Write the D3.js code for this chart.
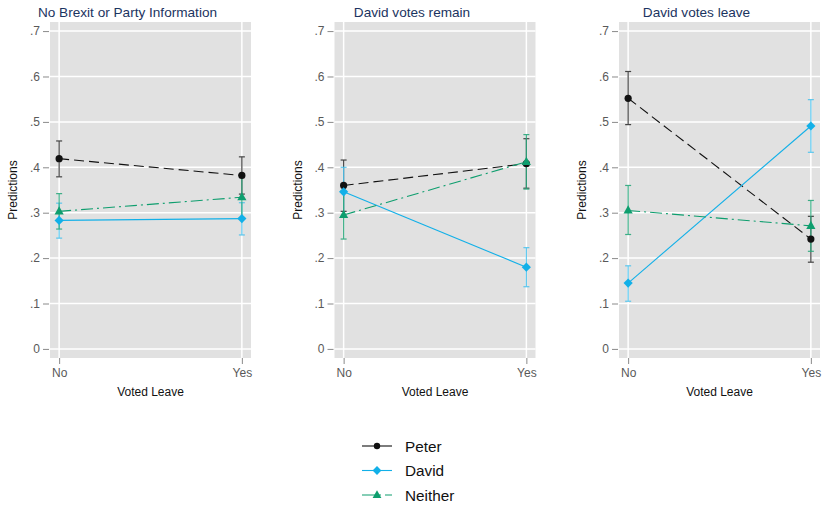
<!DOCTYPE html>
<html><head><meta charset="utf-8">
<script src="https://cdn.jsdelivr.net/npm/d3@7"></script>
<style>body{margin:0;background:#fff}svg{display:block;font-family:"Liberation Sans",Arial,sans-serif}</style>
</head><body><svg id="c" width="823" height="506"></svg>
<script>
const categories = ["No", "Yes"];
const panelTitles = ["No Brexit or Party Information", "David votes remain", "David votes leave"];
const seriesNames = ["Peter", "David", "Neither"];
const yTicks = [0, .1, .2, .3, .4, .5, .6, .7];
const yTickLabels = ["0", ".1", ".2", ".3", ".4", ".5", ".6", ".7"];
// per panel: [No, Yes]
const peterEst = [[.419, .382], [.360, .408], [.552, .242]];
const peterLo  = [[.379, .341], [.303, .354], [.494, .191]];
const peterHi  = [[.458, .423], [.416, .463], [.611, .292]];
const davidEst = [[.283, .287], [.346, .180], [.145, .491]];
const davidLo  = [[.244, .251], [.292, .137], [.105, .433]];
const davidHi  = [[.321, .322], [.400, .223], [.183, .549]];
const neitherEst = [[.303, .334], [.295, .412], [.305, .271]];
const neitherLo  = [[.264, .288], [.242, .352], [.252, .215]];
const neitherHi  = [[.342, .380], [.348, .472], [.360, .327]];

const series = [
  {name: seriesNames[0], est: peterEst, lo: peterLo, hi: peterHi, color: "#111111", ebColor: "#333333", dash: "10,5", marker: "circle"},
  {name: seriesNames[1], est: davidEst, lo: davidLo, hi: davidHi, color: "#12b0e8", ebColor: "#4cc3ee", dash: null, marker: "diamond"},
  {name: seriesNames[2], est: neitherEst, lo: neitherLo, hi: neitherHi, color: "#0e9e6e", ebColor: "#2aa87c", dash: "12,4,2,4", marker: "triangle"}
];

function markerPath(type, s) {
  if (type === "circle") { const p = d3.path(); p.arc(0, 0, s, 0, 2 * Math.PI); return p.toString(); }
  if (type === "diamond") return `M0,${-s}L${s},0L0,${s}L${-s},0Z`;
  const h = s * 1.1;
  return `M0,${-h}L${s},${h * 0.6}L${-s},${h * 0.6}Z`;
}

const svg = d3.select("#c");
const pw = 201, plotTop = 22, plotBottom = 358;
const y = d3.scaleLinear().domain([-0.02, 0.72]).range([plotBottom, plotTop]);

panelTitles.forEach((title, pi) => {
  const x0 = 50 + pi * 284.5;
  const g = svg.append("g").attr("transform", `translate(${x0},0)`);
  const x = d3.scalePoint().domain(categories).range([0, pw]).padding(0.05);

  g.append("rect").attr("x", 0).attr("y", plotTop).attr("width", pw).attr("height", plotBottom - plotTop).attr("fill", "#e1e1e1");
  g.selectAll(".hg").data(yTicks).enter().append("line")
    .attr("x1", 0).attr("x2", pw).attr("y1", d => y(d)).attr("y2", d => y(d))
    .attr("stroke", "#fff").attr("stroke-width", 1.5);
  g.selectAll(".vg").data(categories).enter().append("line")
    .attr("x1", d => x(d)).attr("x2", d => x(d)).attr("y1", plotTop).attr("y2", plotBottom)
    .attr("stroke", "#fff").attr("stroke-width", 1.5);

  const ya = d3.axisLeft(y).tickValues(yTicks).tickFormat((d, i) => yTickLabels[i]).tickSize(6).tickPadding(3);
  const yg = g.append("g").attr("transform", "translate(-1,0)").call(ya);
  yg.select(".domain").remove();
  yg.selectAll("line").attr("stroke", "#8a8a8a");
  yg.selectAll("text").attr("fill", "#595959").style("font-size", "12px").style("font-family", "Liberation Sans, Arial, sans-serif");

  const xa = d3.axisBottom(x).tickSize(6).tickPadding(4);
  const xg = g.append("g").attr("transform", `translate(0,${plotBottom})`).call(xa);
  xg.select(".domain").remove();
  xg.selectAll("line").attr("stroke", "#8a8a8a");
  xg.selectAll("text").attr("fill", "#595959").style("font-size", "12px").style("font-family", "Liberation Sans, Arial, sans-serif");

  g.append("text").attr("x", pw / 2).attr("y", 396).attr("text-anchor", "middle")
    .style("font-size", "12px").attr("fill", "#111").text("Voted Leave");
  g.append("text").attr("transform", `translate(-33,${(plotTop + plotBottom) / 2}) rotate(-90)`).attr("text-anchor", "middle")
    .style("font-size", "12px").attr("fill", "#111").text("Predictions");
  g.append("text").attr("x", pw / 2 - 23).attr("y", 17).attr("text-anchor", "middle")
    .style("font-size", "13.6px").attr("fill", "#1b3461").text(title);

  series.forEach(s => {
    categories.forEach((c, ci) => {
      const cx = x(c);
      const eb = g.append("g").attr("stroke", s.ebColor).attr("stroke-width", 1.2).attr("opacity", 0.9);
      eb.append("line").attr("x1", cx).attr("x2", cx).attr("y1", y(s.lo[pi][ci])).attr("y2", y(s.hi[pi][ci]));
      [s.lo[pi][ci], s.hi[pi][ci]].forEach(v => {
        eb.append("line").attr("x1", cx - 3).attr("x2", cx + 3).attr("y1", y(v)).attr("y2", y(v));
      });
    });
  });
  series.forEach(s => {
    const pts = categories.map((c, ci) => [x(c), y(s.est[pi][ci])]);
    g.append("path").attr("d", d3.line()(pts)).attr("fill", "none").attr("stroke", s.color)
      .attr("stroke-width", 1.1).attr("stroke-dasharray", s.dash);
  });
  series.forEach(s => {
    categories.forEach((c, ci) => {
      g.append("path").attr("d", markerPath(s.marker, s.marker === "circle" ? 3.6 : 4.6))
        .attr("transform", `translate(${x(c)},${y(s.est[pi][ci])})`).attr("fill", s.color);
    });
  });
});

const lg = svg.append("g");
series.forEach((s, i) => {
  const ly = 446 + i * 24.5;
  lg.append("line").attr("x1", 362).attr("x2", 392).attr("y1", ly).attr("y2", ly)
    .attr("stroke", s.color).attr("stroke-width", 1.1).attr("stroke-dasharray", s.marker === "triangle" ? "13,4,2,4" : null);
  lg.append("path").attr("d", markerPath(s.marker, s.marker === "circle" ? 3.2 : 4.4))
    .attr("transform", `translate(377,${ly})`).attr("fill", s.color);
  lg.append("text").attr("x", 405).attr("y", ly + 5.5).style("font-size", "15.3px").attr("fill", "#111").text(s.name);
});
</script></body></html>
